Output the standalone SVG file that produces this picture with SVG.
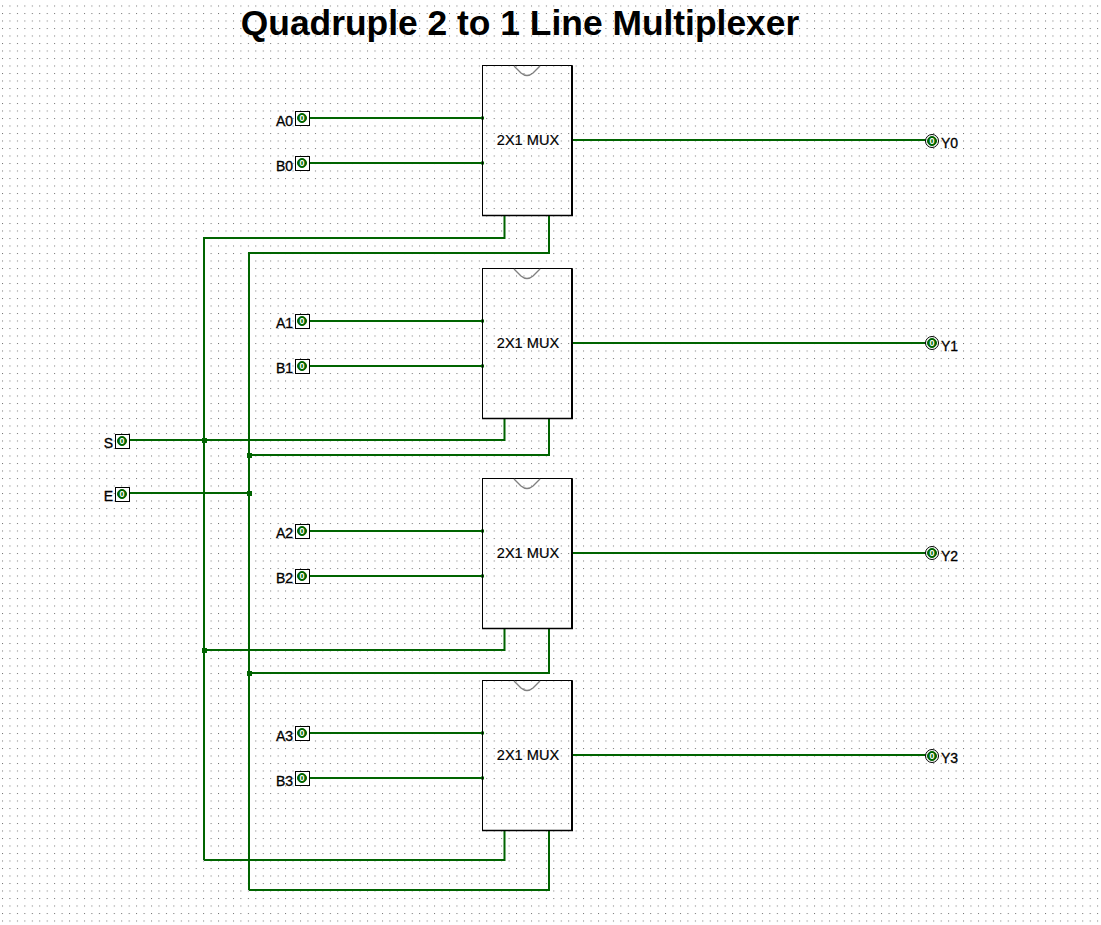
<svg xmlns="http://www.w3.org/2000/svg" width="1101" height="925" viewBox="0 0 1101 925">
<style>
text{font-family:"Liberation Sans",Arial,sans-serif;fill:#000}
.title{font-size:35.4px;font-weight:700;text-anchor:middle}
.lbl{font-size:14px;stroke:#000;stroke-width:.3px}
.end{text-anchor:end}
.mt{font-size:14.6px;text-anchor:middle;stroke:#000;stroke-width:.2px}
.body{fill:none;stroke:#000;stroke-width:1}
.edge{fill:none;stroke:#000;stroke-width:2}
.base{fill:none;stroke:#000;stroke-width:1.5}
.notch{fill:none;stroke:#808080;stroke-width:1.4}
.w{fill:none;stroke:#006400;stroke-width:2}
.j{fill:#006400}
.box{fill:#fff;stroke:#000;stroke-width:1}
.led{fill:#006400;stroke:#006400;stroke-width:1}
.ring{fill:#fff;stroke:#000;stroke-width:1}
.v{font-size:9px;font-weight:700;fill:#fff;text-anchor:middle}
</style>
<defs>
<pattern id="grid" x="2" y="5.500" width="7.45" height="7.5" patternUnits="userSpaceOnUse"><rect width="1" height="1" fill="#707070"/></pattern>
</defs>
<rect width="1101" height="925" fill="#fff"/>
<rect width="1101" height="925" fill="url(#grid)"/>
<text class="title" x="520" y="35">Quadruple 2 to 1 Line Multiplexer</text>
<g id="connectors">
<path class="w" d="M310 118H483M310 163H483M572 140H926M504.500 215V238H204V860M549 215V253H249V890"/>
<path class="w" d="M310 321H483M310 366H483M572 343H926M504.500 418V440H130M549 418V455H249"/>
<path class="w" d="M130 493H249"/>
<path class="w" d="M310 531H483M310 576H483M572 553H926M504.500 628V650H204M549 628V673H249"/>
<path class="w" d="M310 733H483M310 778H483M572 755H926M504.500 830V860H204M549 830V890H249"/>
<g class="j">
<rect x="202" y="438" width="5" height="5"/><rect x="247" y="453" width="5" height="5"/><rect x="247" y="491" width="5" height="5"/><rect x="202" y="648" width="5" height="5"/><rect x="247" y="671" width="5" height="5"/>
<rect x="481" y="116.500" width="3" height="3"/><rect x="481" y="161.500" width="3" height="3"/>
<rect x="481" y="319.500" width="3" height="3"/><rect x="481" y="364.500" width="3" height="3"/>
<rect x="481" y="529.500" width="3" height="3"/><rect x="481" y="574.500" width="3" height="3"/>
<rect x="481" y="731.500" width="3" height="3"/><rect x="481" y="776.500" width="3" height="3"/>
</g>
</g>
<g id="mux0"><rect class="body" x="482.500" y="65.500" width="89.500" height="150"/><path class="edge" d="M572 65.500V216"/><path class="base" d="M482 215.500H573"/><path class="notch" d="M514 66l7 7q6 5 12 0l7-7"/><text class="mt" x="528" y="145">2X1 MUX</text></g>
<g id="mux1"><rect class="body" x="482.500" y="268.500" width="89.500" height="150"/><path class="edge" d="M572 268.500V419"/><path class="base" d="M482 418.500H573"/><path class="notch" d="M514 269l7 7q6 5 12 0l7-7"/><text class="mt" x="528" y="348">2X1 MUX</text></g>
<g id="mux2"><rect class="body" x="482.500" y="478.500" width="89.500" height="150"/><path class="edge" d="M572 478.500V629"/><path class="base" d="M482 628.500H573"/><path class="notch" d="M514 479l7 7q6 5 12 0l7-7"/><text class="mt" x="528" y="558">2X1 MUX</text></g>
<g id="mux3"><rect class="body" x="482.500" y="680.500" width="89.500" height="150"/><path class="edge" d="M572 680.500V831"/><path class="base" d="M482 830.500H573"/><path class="notch" d="M514 681l7 7q6 5 12 0l7-7"/><text class="mt" x="528" y="760">2X1 MUX</text></g>
<g id="in-A0"><rect class="box" x="295.500" y="111.500" width="14" height="14"/><circle class="led" cx="302" cy="118" r="4.500"/><text class="v" x="302" y="121">0</text><text class="lbl end" x="293" y="125.500">A0</text></g>
<g id="in-B0"><rect class="box" x="295.500" y="156.500" width="14" height="14"/><circle class="led" cx="302" cy="163" r="4.500"/><text class="v" x="302" y="166">0</text><text class="lbl end" x="293" y="170.500">B0</text></g>
<g id="in-A1"><rect class="box" x="295.500" y="314.500" width="14" height="14"/><circle class="led" cx="302" cy="321" r="4.500"/><text class="v" x="302" y="324">0</text><text class="lbl end" x="293" y="327.500">A1</text></g>
<g id="in-B1"><rect class="box" x="295.500" y="359.500" width="14" height="14"/><circle class="led" cx="302" cy="366" r="4.500"/><text class="v" x="302" y="369">0</text><text class="lbl end" x="293" y="372.500">B1</text></g>
<g id="in-A2"><rect class="box" x="295.500" y="524.500" width="14" height="14"/><circle class="led" cx="302" cy="531" r="4.500"/><text class="v" x="302" y="534">0</text><text class="lbl end" x="293" y="537.500">A2</text></g>
<g id="in-B2"><rect class="box" x="295.500" y="569.500" width="14" height="14"/><circle class="led" cx="302" cy="576" r="4.500"/><text class="v" x="302" y="579">0</text><text class="lbl end" x="293" y="582.500">B2</text></g>
<g id="in-A3"><rect class="box" x="295.500" y="726.500" width="14" height="14"/><circle class="led" cx="302" cy="733" r="4.500"/><text class="v" x="302" y="736">0</text><text class="lbl end" x="293" y="740.500">A3</text></g>
<g id="in-B3"><rect class="box" x="295.500" y="771.500" width="14" height="14"/><circle class="led" cx="302" cy="778" r="4.500"/><text class="v" x="302" y="781">0</text><text class="lbl end" x="293" y="785.500">B3</text></g>
<g id="in-S"><rect class="box" x="115.500" y="434.500" width="14" height="14"/><circle class="led" cx="122" cy="441" r="4.500"/><text class="v" x="122" y="444">0</text><text class="lbl end" x="113" y="447.500">S</text></g>
<g id="in-E"><rect class="box" x="115.500" y="487.500" width="14" height="14"/><circle class="led" cx="122" cy="494" r="4.500"/><text class="v" x="122" y="497">0</text><text class="lbl end" x="113" y="500.500">E</text></g>
<g id="out-Y0"><circle class="ring" cx="932" cy="141" r="6.500"/><circle class="led" cx="932" cy="141" r="4.500"/><text class="v" x="932" y="144">0</text><text class="lbl" x="941" y="147.500">Y0</text></g>
<g id="out-Y1"><circle class="ring" cx="932" cy="343" r="6.500"/><circle class="led" cx="932" cy="343" r="4.500"/><text class="v" x="932" y="346">0</text><text class="lbl" x="941" y="350.500">Y1</text></g>
<g id="out-Y2"><circle class="ring" cx="932" cy="553" r="6.500"/><circle class="led" cx="932" cy="553" r="4.500"/><text class="v" x="932" y="556">0</text><text class="lbl" x="941" y="560.500">Y2</text></g>
<g id="out-Y3"><circle class="ring" cx="932" cy="756" r="6.500"/><circle class="led" cx="932" cy="756" r="4.500"/><text class="v" x="932" y="759">0</text><text class="lbl" x="941" y="762.500">Y3</text></g>
</svg>
